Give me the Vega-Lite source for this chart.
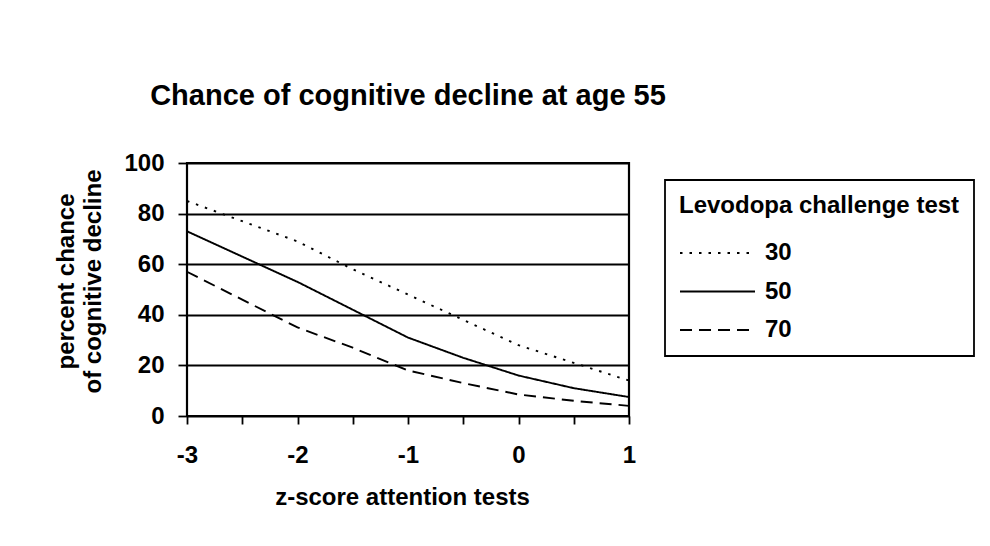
{
  "$schema": "https://vega.github.io/schema/vega-lite/v6.json",
  "width": 442,
  "height": 253,
  "autosize": {"type": "none"},
  "padding": {"left": 187, "top": 163, "right": 361, "bottom": 130},
  "background": "white",
  "title": {
    "text": "Chance of cognitive decline at age 55",
    "fontSize": 29,
    "fontWeight": "bold",
    "anchor": "middle",
    "frame": "group",
    "baseline": "alphabetic",
    "offset": 17,
    "color": "black"
  },
  "data": {
    "values": [
      {"z": -3, "pct": 85, "level": "30"},
      {"z": -2.5, "pct": 77, "level": "30"},
      {"z": -2, "pct": 69, "level": "30"},
      {"z": -1.5, "pct": 58, "level": "30"},
      {"z": -1, "pct": 48, "level": "30"},
      {"z": -0.5, "pct": 38, "level": "30"},
      {"z": 0, "pct": 28, "level": "30"},
      {"z": 0.5, "pct": 21, "level": "30"},
      {"z": 1, "pct": 14, "level": "30"},
      {"z": -3, "pct": 73, "level": "50"},
      {"z": -2.5, "pct": 63, "level": "50"},
      {"z": -2, "pct": 53, "level": "50"},
      {"z": -1.5, "pct": 42, "level": "50"},
      {"z": -1, "pct": 31, "level": "50"},
      {"z": -0.5, "pct": 23, "level": "50"},
      {"z": 0, "pct": 16, "level": "50"},
      {"z": 0.5, "pct": 11, "level": "50"},
      {"z": 1, "pct": 7.5, "level": "50"},
      {"z": -3, "pct": 57, "level": "70"},
      {"z": -2.5, "pct": 46, "level": "70"},
      {"z": -2, "pct": 35, "level": "70"},
      {"z": -1.5, "pct": 27, "level": "70"},
      {"z": -1, "pct": 18, "level": "70"},
      {"z": -0.5, "pct": 13, "level": "70"},
      {"z": 0, "pct": 8.5, "level": "70"},
      {"z": 0.5, "pct": 6, "level": "70"},
      {"z": 1, "pct": 4, "level": "70"}
    ]
  },
  "mark": {"type": "line", "color": "black", "strokeWidth": 1.9, "clip": true},
  "encoding": {
    "x": {
      "field": "z",
      "type": "quantitative",
      "scale": {"domain": [-3, 1], "nice": false, "zero": false},
      "axis": {
        "title": "z-score attention tests",
        "titleX": 215,
        "values": [-3, -2.5, -2, -1.5, -1, -0.5, 0, 0.5, 1],
        "labelExpr": "datum.value % 1 === 0 ? '' + datum.value : ''",
        "grid": false,
        "domain": false,
        "tickSize": 8,
        "tickWidth": 1.8,
        "tickColor": "black",
        "labelFontSize": 24,
        "labelFontWeight": "bold",
        "labelColor": "black",
        "labelPadding": 19,
        "labelFlush": false,
        "labelOverlap": false,
        "titleFontSize": 24,
        "titleFontWeight": "bold",
        "titleColor": "black",
        "titlePadding": 18
      }
    },
    "y": {
      "field": "pct",
      "type": "quantitative",
      "scale": {"domain": [0, 100], "nice": false},
      "axis": {
        "title": ["percent chance", "of cognitive decline"],
        "titleY": 118,
        "values": [0, 20, 40, 60, 80, 100],
        "grid": true,
        "gridColor": "black",
        "gridWidth": 1.8,
        "gridOpacity": 1,
        "domain": false,
        "tickSize": 9,
        "tickWidth": 1.8,
        "tickColor": "black",
        "labelFontSize": 24,
        "labelFontWeight": "bold",
        "labelColor": "black",
        "labelPadding": 14,
        "labelFlush": false,
        "labelOverlap": false,
        "titleFontSize": 24,
        "titleFontWeight": "bold",
        "titleColor": "black",
        "titleLineHeight": 27,
        "titlePadding": 18
      }
    },
    "strokeDash": {
      "field": "level",
      "type": "nominal",
      "scale": {"domain": ["30", "50", "70"], "range": [[2.5, 7], [1, 0], [12, 7]]},
      "legend": {
        "title": "Levodopa challenge test",
        "orient": "none",
        "legendX": 478,
        "legendY": 17,
        "padding": 14,
        "strokeColor": "black",
        "titleFontSize": 24,
        "titleFontWeight": "bold",
        "titleColor": "black",
        "titlePadding": 19,
        "titleLimit": 400,
        "labelFontSize": 24,
        "labelFontWeight": "bold",
        "labelColor": "black",
        "labelOffset": 54,
        "symbolType": "M-1,0H4",
        "symbolSize": 900,
        "symbolStrokeWidth": 1.9,
        "symbolStrokeColor": "black",
        "symbolFillColor": "transparent",
        "rowPadding": 10.5
      }
    }
  },
  "config": {
    "font": "Liberation Sans",
    "view": {"stroke": "black", "strokeWidth": 2.2},
    "legend": {"strokeWidth": 1.8}
  }
}
